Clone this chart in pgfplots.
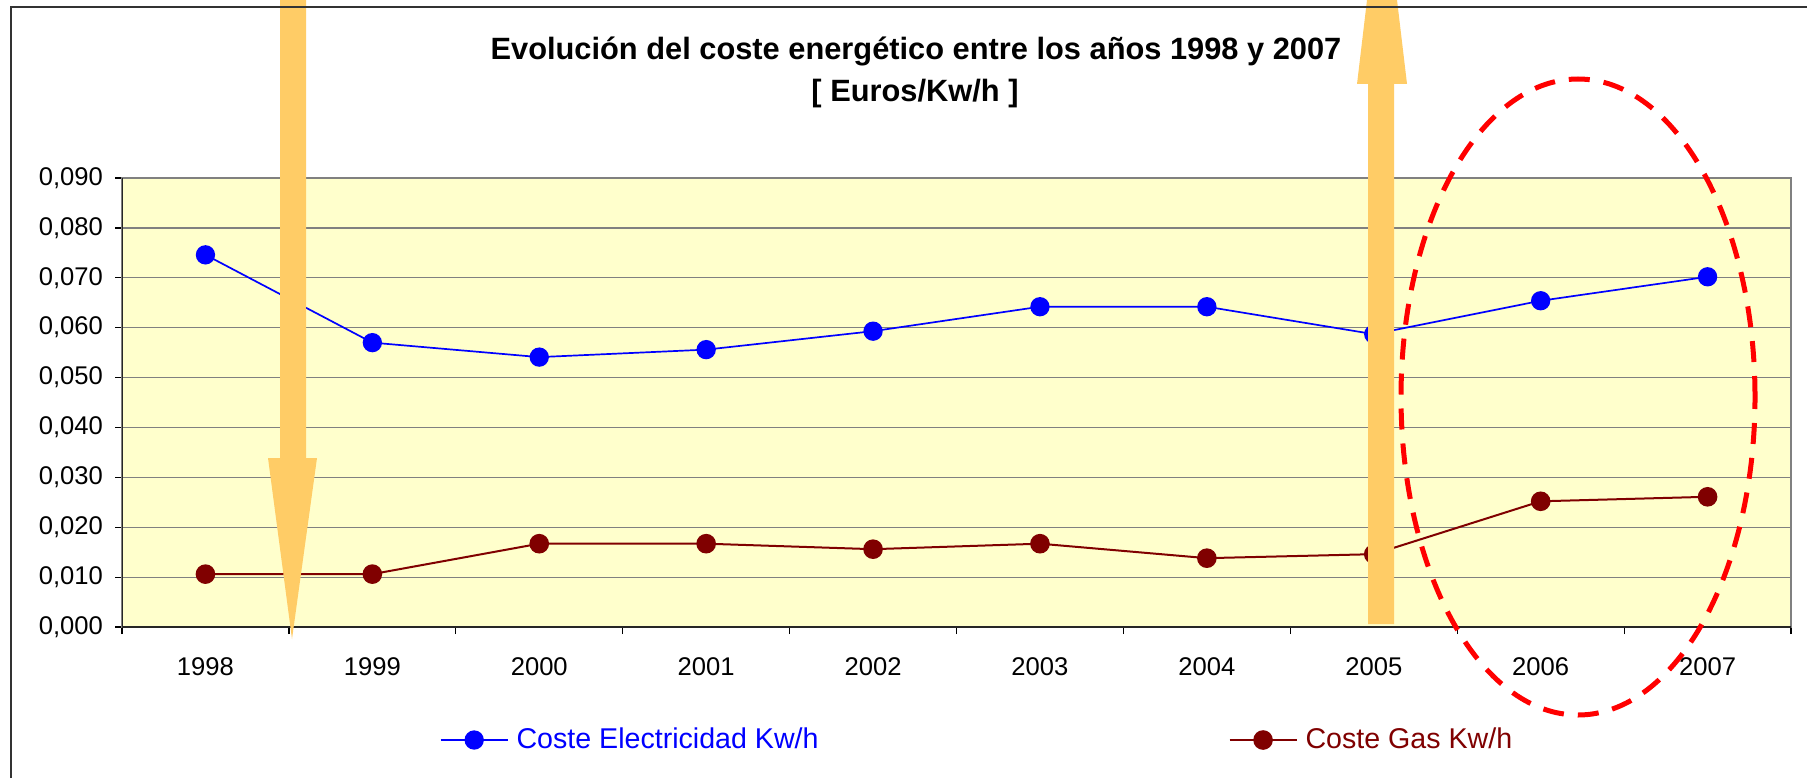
\documentclass[border=0pt]{standalone}
\usepackage{fontspec}
\setmainfont{Liberation Sans}
\usepackage{pgfplots}
\pgfplotsset{compat=1.18}
\definecolor{elec}{RGB}{0,0,255}
\definecolor{gas}{RGB}{128,0,0}
\definecolor{bgy}{RGB}{255,255,204}
\definecolor{arr}{RGB}{255,204,102}
\definecolor{gridg}{RGB}{128,128,128}
\begin{document}
\begin{tikzpicture}
\useasboundingbox (0,0) rectangle (903.5pt,389pt);
\clip (0,0) rectangle (903.5pt,389pt);
\fill[white] (0,0) rectangle (903.5pt,389pt);
\begin{axis}[
  at={(61pt,75.5pt)}, anchor=south west,
  scale only axis, width=834.5pt, height=224.5pt,
  xmin=-0.5, xmax=9.5, ymin=0, ymax=0.09,
  axis background/.style={fill=bgy},
  axis line style={draw=gridg, line width=1pt},
  xtick={-0.5,0.5,1.5,2.5,3.5,4.5,5.5,6.5,7.5,8.5,9.5},
  x tick label as interval,
  xticklabels={1998,1999,2000,2001,2002,2003,2004,2005,2006,2007},
  ytick={0,0.01,0.02,0.03,0.04,0.05,0.06,0.07,0.08,0.09},
  scaled y ticks=false,
  xtick pos=left, ytick pos=left,
  tick align=outside, major tick length=3.5pt,
  tick style={black, line width=0.6pt},
  ymajorgrids, grid style={gridg, line width=0.6pt},
  ticklabel style={font=\fontsize{12.8}{15}\selectfont},
  xticklabel style={yshift=-8.5pt},
  yticklabel style={xshift=-2.5pt, /pgf/number format/fixed, /pgf/number format/fixed zerofill, /pgf/number format/precision=3, /pgf/number format/use comma, /pgf/number format/assume math mode=true},
  legend columns=2,
  legend style={at={(0.1902,-0.2517)}, anchor=west, draw=none, fill=none, inner sep=0pt,
    font=\fontsize{14.3}{16}\selectfont,
    nodes={inner sep=0pt},
    /tikz/every odd column/.append style={column sep=4pt},
    /tikz/every even column/.append style={column sep=205pt}},
  legend image code/.code={\draw[mark repeat=2,mark phase=2,#1] plot coordinates {(0pt,0pt) (16.75pt,0pt) (33.5pt,0pt)};},
]
\addplot[elec, line width=0.85pt, mark=*, mark size=4.4pt, mark options={fill=elec, draw=elec, solid}]
  coordinates {(0,0.0746) (1,0.0570) (2,0.0541) (3,0.0556) (4,0.0593) (5,0.0642) (6,0.0642) (7,0.0587) (8,0.0654) (9,0.0702)};
\addlegendentry{\textcolor{elec}{Coste Electricidad Kw/h}}
\addplot[gas, line width=1pt, mark=*, mark size=4.4pt, mark options={fill=gas, draw=gas, solid}]
  coordinates {(0,0.0106) (1,0.0106) (2,0.0167) (3,0.0167) (4,0.0156) (5,0.0167) (6,0.0138) (7,0.0146) (8,0.0252) (9,0.0261)};
\addlegendentry{\textcolor{gas}{Coste Gas Kw/h}}
\draw[black!85, line width=0.8pt] (rel axis cs:0,1) -- (rel axis cs:0,0) -- (rel axis cs:1,0);
\end{axis}
\begin{scope}[x=0.5pt, y=0.5pt]
\fill[arr] (280,800) -- (280,320) -- (268,320) -- (292,139) -- (317,320) -- (306,320) -- (306,800) -- cycle;
\fill[arr] (1368,154) -- (1368,694) -- (1357,694) -- (1382,904) -- (1407,694) -- (1394,694) -- (1394,154) -- cycle;
\draw[red, line width=2.5pt, dash pattern=on 10.5pt off 7pt] (1578,381) ellipse [x radius=177, y radius=318];
\draw[black!80, line width=0.75pt] (11,0) -- (11,771) -- (1807,771);
\node[anchor=base, inner sep=0pt, font=\bfseries\fontsize{15.4}{18}\selectfont] at (916,718) {Evolución del coste energético entre los años 1998 y 2007};
\node[anchor=base, inner sep=0pt, font=\bfseries\fontsize{15.4}{18}\selectfont] at (915,676) {[ Euros/Kw/h ]};
\end{scope}
\end{tikzpicture}
\end{document}
